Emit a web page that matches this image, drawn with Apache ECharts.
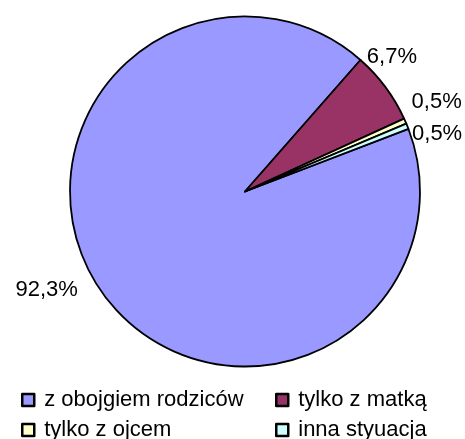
<!DOCTYPE html>
<html>
<head>
<meta charset="utf-8">
<script src="https://cdn.jsdelivr.net/npm/echarts@6/dist/echarts.min.js"></script>
<style>
  html, body { margin: 0; padding: 0; background: #fff; }
  #chart { width: 465px; height: 439px; }
</style>
</head>
<body>
<div id="chart"></div>
<script>
// kategorie i udziały (%)
var categories = ['z obojgiem rodziców', 'tylko z matką', 'tylko z ojcem', 'inna styuacja'];
var shares = [92.3, 6.7, 0.5, 0.5];
var colors = ['#9999FF', '#993366', '#FFFFCC', '#CCFFFF'];

// przesunięcia etykiet (jak w Excelu)
var labelShift = [[-12, -6], [-30, -25], [-3, -16], [-10, -8]];
// pozycje legendy: [left, top]
var legendPos = [[21, 389], [275, 389], [21, 419], [275, 419]];

var chartDom = document.getElementById('chart');
var myChart = echarts.init(chartDom);
var option;

var pieData = categories.map(function (name, i) {
    return { name: name, value: shares[i], itemStyle: { color: colors[i] } };
});

var legends = categories.map(function (name, i) {
    return {
        left: legendPos[i][0],
        top: legendPos[i][1],
        padding: 0,
        itemWidth: 12,
        itemHeight: 12,
        icon: 'rect',
        itemStyle: { color: colors[i], borderColor: '#000', borderWidth: 2.5 },
        textStyle: {
            fontFamily: 'Liberation Sans, Arial',
            fontSize: 22,
            lineHeight: 22,
            color: '#000',
            padding: [0, 0, 0, 5]
        },
        data: [name]
    };
});

option = {
    animation: false,
    backgroundColor: '#fff',
    legend: legends,
    series: [
        {
            type: 'pie',
            center: [245, 191.5],
            radius: [0, 175],
            startAngle: 21,
            clockwise: true,
            avoidLabelOverlap: true,
            itemStyle: { borderColor: '#000', borderWidth: 1.8 },
            label: {
                show: true,
                position: 'outside',
                overflow: 'none',
                fontFamily: 'Liberation Sans, Arial',
                fontSize: 22,
                color: '#000',
                formatter: function (p) {
                    return p.value.toFixed(1).replace('.', ',') + '%';
                }
            },
            labelLine: { show: false, length: 8, length2: 0 },
            labelLayout: function (p) {
                var s = labelShift[p.dataIndex];
                return { dx: s[0], dy: s[1] };
            },
            emphasis: { disabled: true },
            data: pieData
        }
    ]
};

option && myChart.setOption(option);
</script>
</body>
</html>
